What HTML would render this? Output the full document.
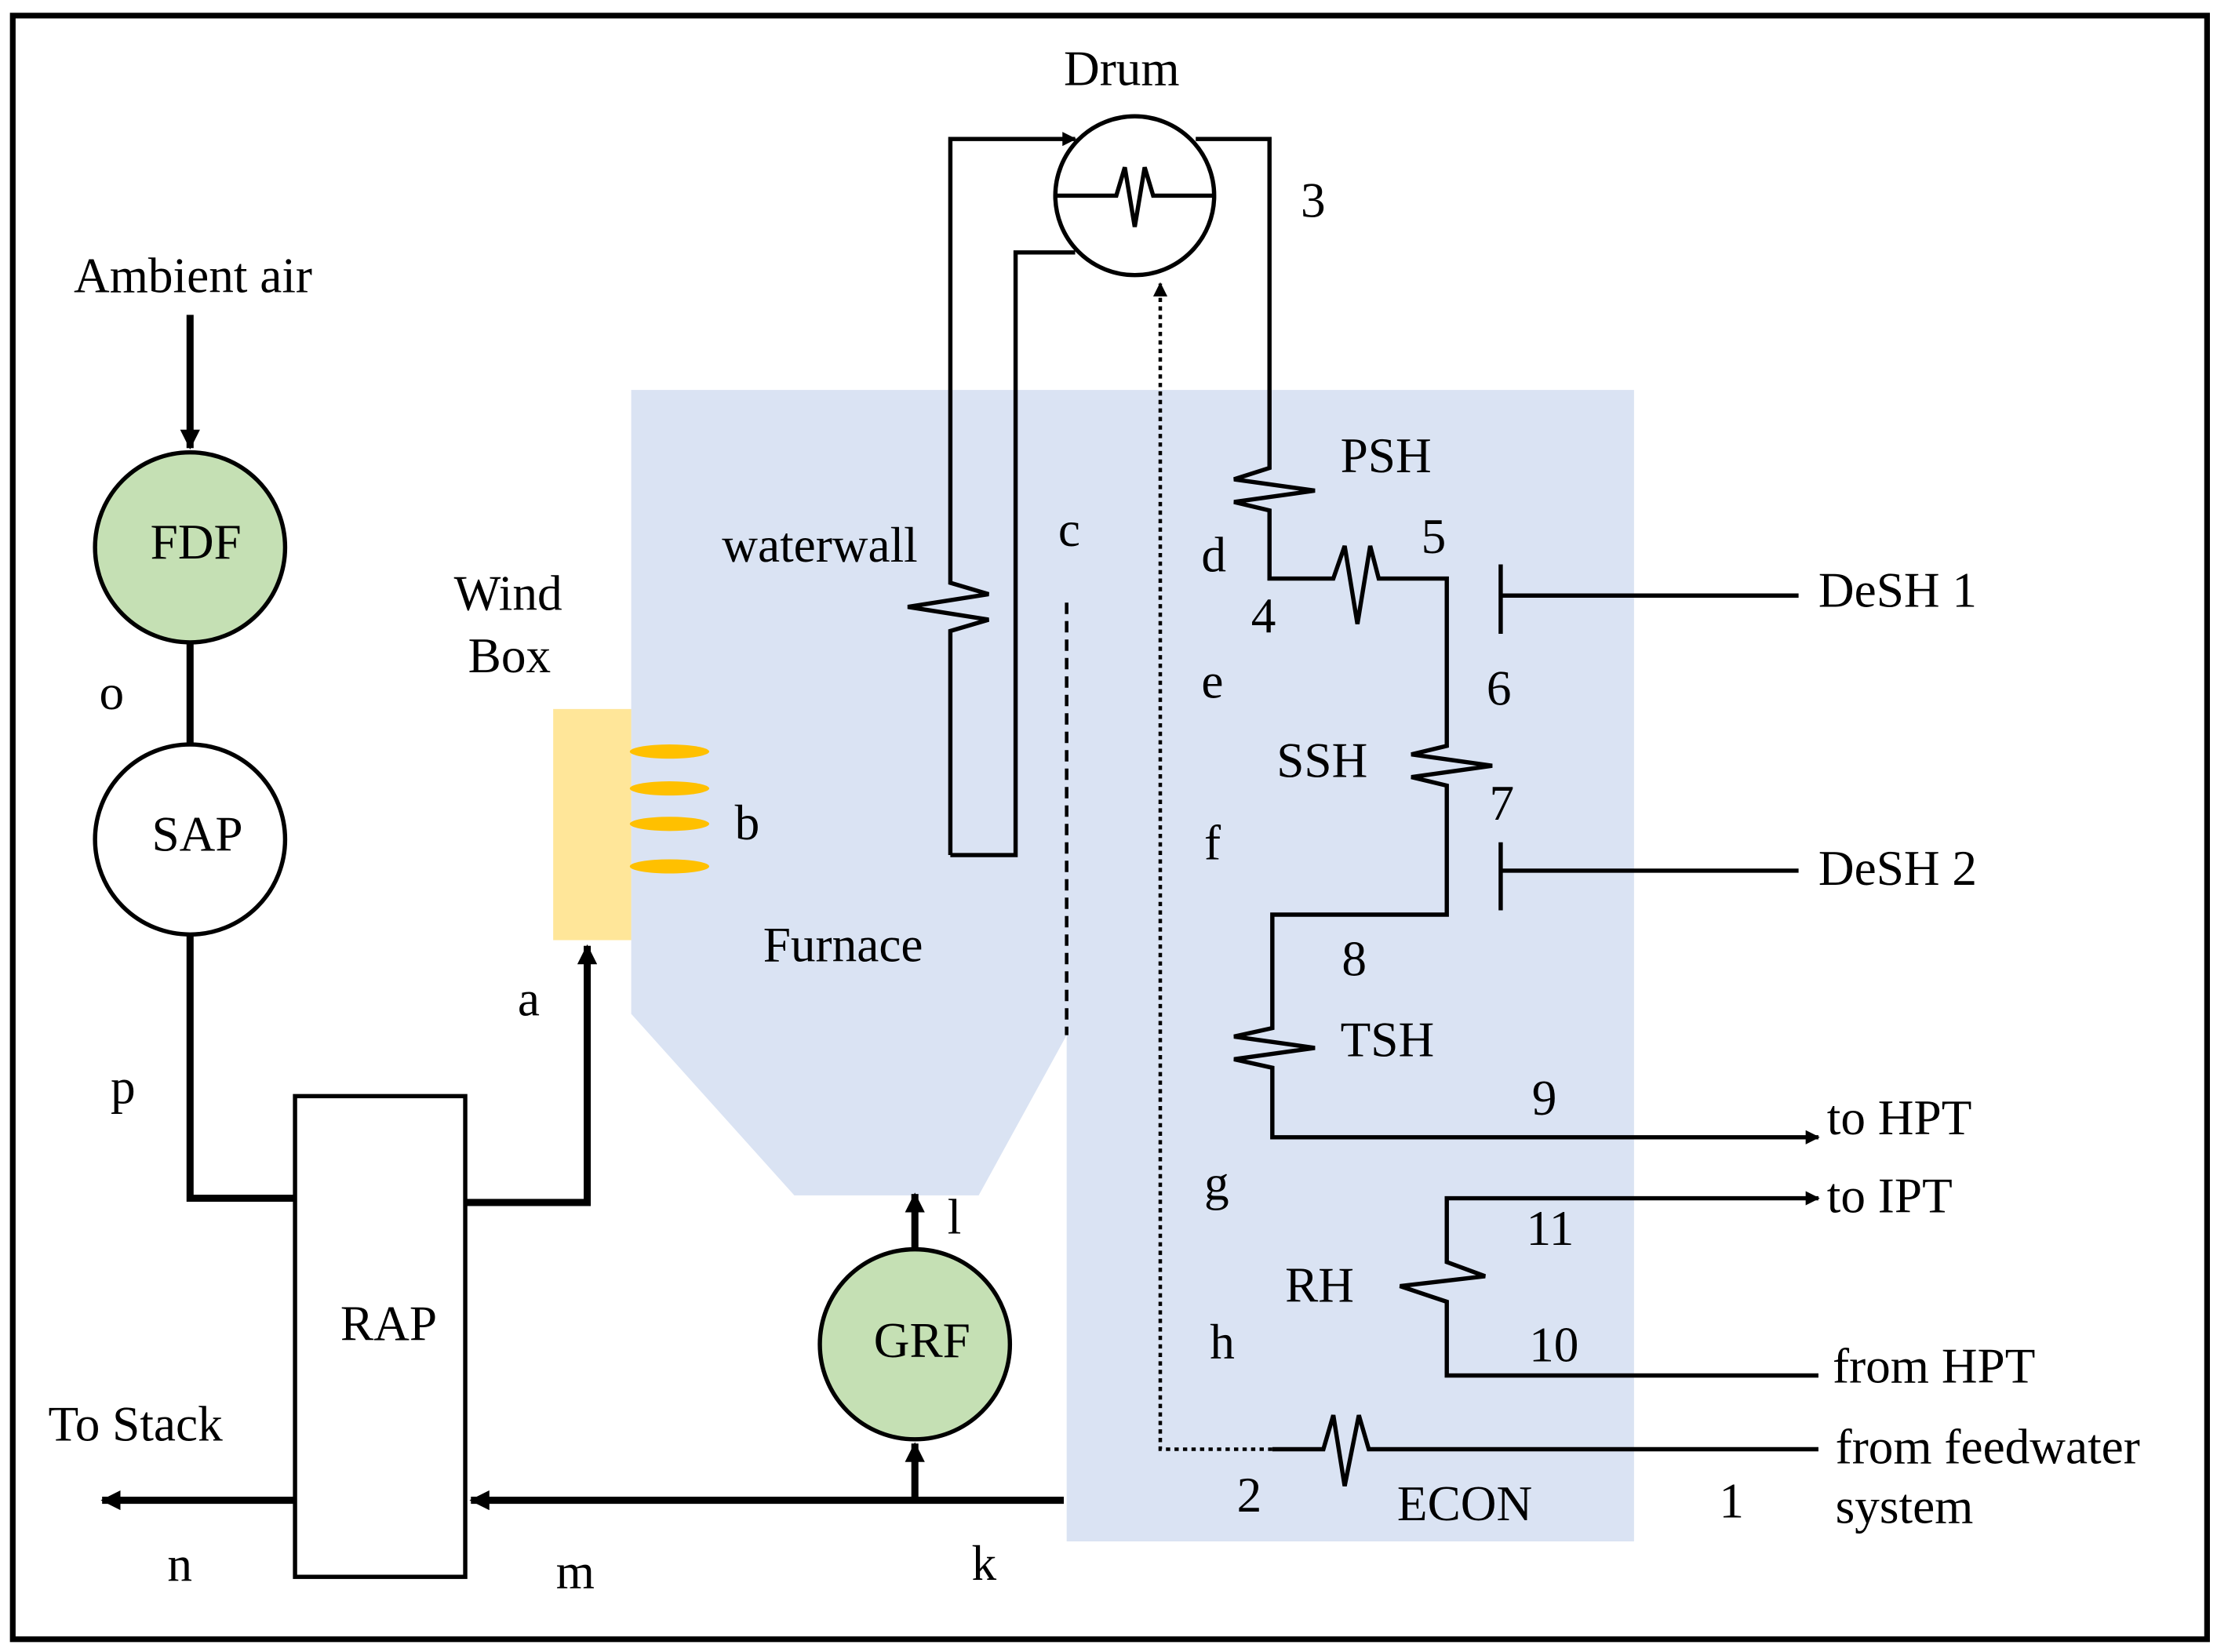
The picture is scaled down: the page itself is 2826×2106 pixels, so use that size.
<!DOCTYPE html>
<html><head><meta charset="utf-8"><style>
html,body{margin:0;padding:0;background:#fff;}
svg{display:block;}
text{font-family:"Liberation Serif",serif;font-size:35px;fill:#000;}
</style></head><body>
<svg width="2826" height="2106" viewBox="0 0 1563 1165" preserveAspectRatio="none" xmlns="http://www.w3.org/2000/svg">
<defs>
<marker id="ah" markerWidth="10" markerHeight="10" refX="9" refY="5" orient="auto" markerUnits="userSpaceOnUse" viewBox="0 0 10 10">
<path d="M0,0 L10,5 L0,10 z" fill="#000"/></marker>
<marker id="ahs" markerWidth="14" markerHeight="14" refX="13" refY="7" orient="auto" markerUnits="userSpaceOnUse" viewBox="0 0 14 14">
<path d="M0,0 L14,7 L0,14 z" fill="#000"/></marker>
</defs>
<rect x="0" y="0" width="1563" height="1165" fill="#fff"/>
<rect x="9" y="11" width="1547" height="1145" fill="none" stroke="#000" stroke-width="4"/>
<polygon points="445,275 752,275 752,275 1152,275 1152,1087 752,1087 752,730 690,843 560,843 445,715" fill="#dae3f3"/>
<rect x="390" y="500" width="55" height="163" fill="#ffe699"/>
<g fill="#ffc000">
<ellipse cx="472" cy="530" rx="28" ry="5"/>
<ellipse cx="472" cy="556" rx="28" ry="5"/>
<ellipse cx="472" cy="581" rx="28" ry="5"/>
<ellipse cx="472" cy="611" rx="28" ry="5"/>
</g>
<line x1="752" y1="425" x2="752" y2="730" stroke="#000" stroke-width="2.5" stroke-dasharray="8,5"/>
<g stroke="#000" stroke-width="5" fill="none">
<line x1="134" y1="222" x2="134" y2="316" marker-end="url(#ahs)"/>
<line x1="134" y1="453" x2="134" y2="525"/>
<polyline points="134,659 134,845 208,845"/>
<polyline points="328,848 414,848 414,667" marker-end="url(#ahs)"/>
<line x1="645" y1="880" x2="645" y2="842" marker-end="url(#ahs)"/>
<line x1="750" y1="1058" x2="332" y2="1058" marker-end="url(#ahs)"/>
<line x1="645" y1="1058" x2="645" y2="1018" marker-end="url(#ahs)"/>
<line x1="208" y1="1058" x2="72" y2="1058" marker-end="url(#ahs)"/>
</g>
<circle cx="134" cy="386" r="67" fill="#c5e0b4" stroke="#000" stroke-width="3"/>
<circle cx="134" cy="592" r="67" fill="#fff" stroke="#000" stroke-width="3"/>
<circle cx="645" cy="948" r="67" fill="#c5e0b4" stroke="#000" stroke-width="3"/>
<rect x="208" y="773" width="120" height="339" fill="#fff" stroke="#000" stroke-width="3"/>
<g stroke="#000" stroke-width="3" fill="none">
<polyline points="670,603 670,445 697,437 640,428 697,419 670,411 670,98 758,98" marker-end="url(#ah)"/>
<polyline points="670,603 716,603 716,178 758,178"/>
<polyline points="843,98 895,98 895,330 870,338 927,346 870,354 895,360 895,408 940,408 948,385 957,440 966,385 972,408 1020,408 1020,526 995,532 1052,540 995,548 1020,554 1020,645 897,645 897,725 870,731 927,739 870,747 897,753 897,802 1282,802" marker-end="url(#ah)"/>
<polyline points="1282,970 1020,970 1020,918 987,907 1047,900 1020,890 1020,845 1282,845" marker-end="url(#ah)"/>
<polyline points="1282,1022 965,1022 958,998 948,1048 940,998 933,1022 897,1022"/>
<line x1="1058" y1="398" x2="1058" y2="447"/>
<line x1="1058" y1="420" x2="1268" y2="420"/>
<line x1="1058" y1="594" x2="1058" y2="642"/>
<line x1="1058" y1="614" x2="1268" y2="614"/>
</g>
<polyline points="897,1022 818,1022 818,200" fill="none" stroke="#000" stroke-width="2.5" stroke-dasharray="3,3" marker-end="url(#ah)"/>
<circle cx="800" cy="138" r="56" fill="#fff" stroke="#000" stroke-width="3"/>
<polyline points="745,138 787,138 793,118 800,160 807,118 813,138 855,138" fill="none" stroke="#000" stroke-width="3"/>
<text x="750" y="60">Drum</text>
<text x="52" y="206">Ambient air</text>
<text x="106" y="394" font-size="24">FDF</text>
<text x="107" y="600" font-size="24">SAP</text>
<text x="616" y="957" font-size="24">GRF</text>
<text x="240" y="945" font-size="26">RAP</text>
<text x="320" y="430">Wind</text>
<text x="330" y="474">Box</text>
<text x="509" y="396">waterwall</text>
<text x="538" y="678">Furnace</text>
<text x="70" y="500">o</text>
<text x="78" y="778">p</text>
<text x="365" y="716">a</text>
<text x="518" y="592">b</text>
<text x="746" y="385">c</text>
<text x="847" y="403">d</text>
<text x="847" y="492">e</text>
<text x="849" y="606">f</text>
<text x="849" y="846">g</text>
<text x="853" y="958">h</text>
<text x="668" y="870">l</text>
<text x="685" y="1114">k</text>
<text x="392" y="1120">m</text>
<text x="118" y="1115">n</text>
<text x="34" y="1016">To Stack</text>
<text x="917" y="153">3</text>
<text x="945" y="333">PSH</text>
<text x="1002" y="390">5</text>
<text x="882" y="446">4</text>
<text x="1048" y="497">6</text>
<text x="900" y="548">SSH</text>
<text x="1050" y="578">7</text>
<text x="946" y="688">8</text>
<text x="945" y="745">TSH</text>
<text x="1080" y="786">9</text>
<text x="1076" y="878">11</text>
<text x="906" y="918">RH</text>
<text x="1078" y="960">10</text>
<text x="872" y="1066">2</text>
<text x="985" y="1072">ECON</text>
<text x="1212" y="1070">1</text>
<text x="1282" y="428">DeSH 1</text>
<text x="1282" y="624">DeSH 2</text>
<text x="1288" y="800">to HPT</text>
<text x="1288" y="855">to IPT</text>
<text x="1292" y="975">from HPT</text>
<text x="1294" y="1032">from feedwater</text>
<text x="1294" y="1074">system</text>
</svg>
</body></html>
